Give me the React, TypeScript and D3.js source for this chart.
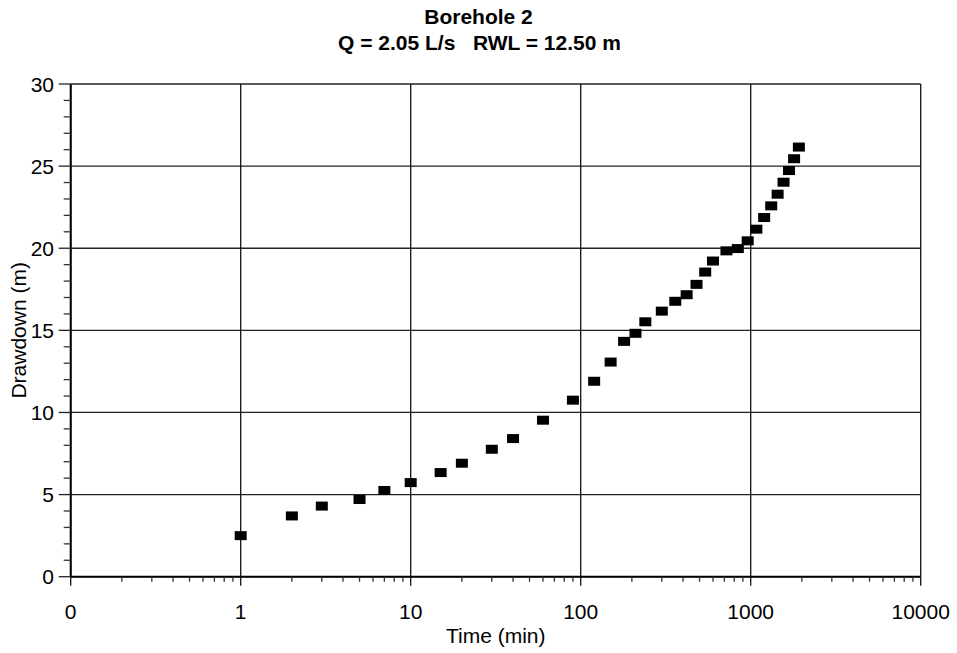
import React from "react";
import * as d3 from "d3";

const timeMin = [1, 2, 3, 5, 7, 10, 15, 20, 30, 40, 60, 90, 120, 150, 180, 210, 240, 300, 360, 420, 480, 540, 600, 720, 840, 960, 1080, 1200, 1320, 1440, 1560, 1680, 1800, 1920];
const drawdown = [2.5, 3.7, 4.3, 4.7, 5.25, 5.73, 6.34, 6.91, 7.76, 8.41, 9.53, 10.75, 11.9, 13.07, 14.33, 14.82, 15.52, 16.17, 16.77, 17.17, 17.8, 18.55, 19.22, 19.84, 19.98, 20.45, 21.16, 21.87, 22.58, 23.29, 24.02, 24.73, 25.45, 26.16];
const xDecades = [0.1, 1, 10, 100, 1000, 10000];
const xDecadeLabels = ["0", "1", "10", "100", "1000", "10000"];
const yMajor = [0, 5, 10, 15, 20, 25, 30];
const titleLines = ["Borehole 2", "Q = 2.05 L/s   RWL = 12.50 m"];
const xTitle = "Time (min)";
const yTitle = "Drawdown (m)";

const W = 957, H = 653;
const m = { left: 70.7, right: 920.7, top: 84, bottom: 576.7 };
const FONT = "'Liberation Sans', Arial, sans-serif";

export default function App() {
  const x = d3.scaleLog().domain([0.1, 10000]).range([m.left, m.right]);
  const y = d3.scaleLinear().domain([0, 30]).range([m.bottom, m.top]);
  const minorX: number[] = [];
  for (let d = 0; d < xDecades.length - 1; d++) {
    for (let k = 2; k <= 9; k++) minorX.push(xDecades[d] * k);
  }
  const minorY = d3.range(0, 31, 1).filter((v) => v % 5 !== 0);
  const markW = 12, markH = 9;
  return (
    <svg width={W} height={H} style={{ position: "absolute", left: 0, top: 0, background: "#fff" }} fontFamily={FONT}>
      <rect x={0} y={0} width={W} height={H} fill="#fff" />
      {/* title */}
      <text x={W / 2} y={24} textAnchor="middle" fontWeight="bold" fontSize={21} fill="#000">{titleLines[0]}</text>
      <text x={W / 2 + 1} y={50} textAnchor="middle" fontWeight="bold" fontSize={21} fill="#000" style={{ whiteSpace: "pre" }}>{titleLines[1]}</text>
      {/* grid */}
      {yMajor.map((v) => (
        <line key={"gy" + v} x1={m.left} x2={m.right} y1={y(v)} y2={y(v)} stroke="#222" strokeWidth={1.3} />
      ))}
      {xDecades.map((v) => (
        <line key={"gx" + v} x1={x(v)} x2={x(v)} y1={m.top} y2={m.bottom} stroke="#111" strokeWidth={1.3} />
      ))}
      {/* axes */}
      <line x1={m.left} x2={m.left} y1={m.top} y2={m.bottom} stroke="#000" strokeWidth={2} />
      <line x1={m.left} x2={m.right} y1={m.bottom} y2={m.bottom} stroke="#000" strokeWidth={2} />
      {/* y ticks */}
      {yMajor.map((v) => (
        <g key={"ty" + v}>
          <line x1={m.left - 12} x2={m.left} y1={y(v)} y2={y(v)} stroke="#222" strokeWidth={1.3} />
          <text x={54} y={y(v)} dy="0.36em" textAnchor="end" fontSize={21} fill="#000">{v}</text>
        </g>
      ))}
      {minorY.map((v) => (
        <line key={"my" + v} x1={m.left - 7} x2={m.left} y1={y(v)} y2={y(v)} stroke="#333" strokeWidth={1.3} />
      ))}
      {/* x ticks */}
      {xDecades.map((v, i) => (
        <g key={"tx" + v}>
          <line x1={x(v)} x2={x(v)} y1={m.bottom} y2={m.bottom + 9} stroke="#111" strokeWidth={1.3} />
          <text x={x(v)} y={618.5} textAnchor="middle" fontSize={21} fill="#000">{xDecadeLabels[i]}</text>
        </g>
      ))}
      {minorX.map((v, i) => (
        <line key={"mx" + i} x1={x(v)} x2={x(v)} y1={m.bottom} y2={m.bottom + 5} stroke="#333" strokeWidth={1.3} />
      ))}
      {/* axis titles */}
      <text x={(m.left + m.right) / 2} y={643} textAnchor="middle" fontSize={21} fill="#000">{xTitle}</text>
      <text transform={`translate(26, ${(m.top + m.bottom) / 2}) rotate(-90)`} textAnchor="middle" fontSize={21} fill="#000">{yTitle}</text>
      {/* markers */}
      {timeMin.map((t, i) => (
        <rect key={"p" + i} x={x(t) - markW / 2} y={y(drawdown[i]) - markH / 2} width={markW} height={markH} fill="#000" />
      ))}
    </svg>
  );
}
